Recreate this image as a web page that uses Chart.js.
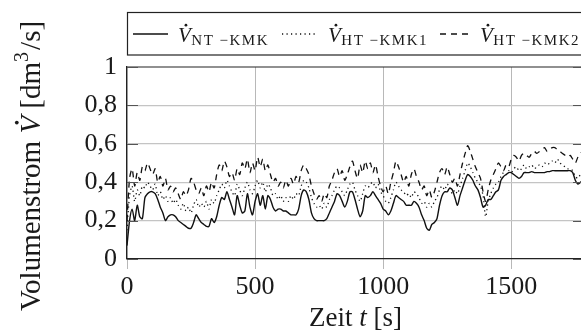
<!DOCTYPE html>
<html lang="de">
<head>
<meta charset="utf-8">
<script src="https://cdn.jsdelivr.net/npm/chart.js@4.4.1/dist/chart.umd.min.js"></script>
<style>
  html, body { margin: 0; padding: 0; background: #fff; overflow: hidden; }
  #wrap { width: 584px; height: 333px; }
</style>
</head>
<body>
<div id="wrap"><canvas id="volumenChart"></canvas></div>
<script>
// Zeitachse in s
var zeit = [
  0, 10, 20, 30, 40, 50, 60, 70, 80, 90,
  100, 110, 120, 130, 140, 150, 160, 170, 180, 190,
  200, 210, 220, 230, 240, 250, 260, 270, 280, 290,
  300, 310, 320, 330, 340, 350, 360, 370, 380, 390,
  400, 410, 420, 430, 440, 450, 460, 470, 480, 490,
  500, 510, 520, 530, 540, 550, 560, 570, 580, 590,
  600, 610, 620, 630, 640, 650, 660, 670, 680, 690,
  700, 710, 720, 730, 740, 750, 760, 770, 780, 790,
  800, 810, 820, 830, 840, 850, 860, 870, 880, 890,
  900, 910, 920, 930, 940, 950, 960, 970, 980, 990,
  1000, 1010, 1020, 1030, 1040, 1050, 1060, 1070, 1080, 1090,
  1100, 1110, 1120, 1130, 1140, 1150, 1160, 1170, 1180, 1190,
  1200, 1210, 1220, 1230, 1240, 1250, 1260, 1270, 1280, 1290,
  1300, 1310, 1320, 1330, 1340, 1350, 1360, 1370, 1380, 1390,
  1400, 1410, 1420, 1430, 1440, 1450, 1460, 1470, 1480, 1490,
  1500, 1510, 1520, 1530, 1540, 1550, 1560, 1570, 1580, 1590,
  1600, 1610, 1620, 1630, 1640, 1650, 1660, 1670, 1680, 1690,
  1700, 1710, 1720, 1730, 1740, 1750, 1760, 1770, 1780
];

// Volumenstrom in dm^3/s
var vNT = [
  0.07, 0.20, 0.26, 0.20, 0.28, 0.22, 0.21, 0.32, 0.34, 0.35,
  0.35, 0.34, 0.31, 0.27, 0.24, 0.20, 0.22, 0.23, 0.23, 0.22,
  0.20, 0.19, 0.18, 0.17, 0.16, 0.16, 0.19, 0.23, 0.21, 0.19,
  0.18, 0.17, 0.17, 0.21, 0.19, 0.22, 0.28, 0.32, 0.31, 0.35,
  0.31, 0.27, 0.23, 0.33, 0.28, 0.24, 0.25, 0.34, 0.27, 0.23,
  0.30, 0.34, 0.28, 0.33, 0.26, 0.33, 0.31, 0.27, 0.25, 0.26,
  0.26, 0.25, 0.25, 0.24, 0.23, 0.23, 0.23, 0.26, 0.33, 0.36,
  0.35, 0.31, 0.24, 0.21, 0.20, 0.20, 0.20, 0.20, 0.21, 0.24,
  0.27, 0.30, 0.34, 0.33, 0.30, 0.27, 0.30, 0.35, 0.35, 0.31,
  0.26, 0.22, 0.25, 0.33, 0.32, 0.33, 0.35, 0.33, 0.31, 0.29,
  0.26, 0.25, 0.23, 0.25, 0.29, 0.33, 0.32, 0.31, 0.30, 0.28,
  0.28, 0.28, 0.30, 0.29, 0.27, 0.23, 0.20, 0.16, 0.15, 0.18,
  0.19, 0.21, 0.28, 0.33, 0.35, 0.35, 0.37, 0.36, 0.32, 0.28,
  0.33, 0.37, 0.41, 0.44, 0.43, 0.41, 0.38, 0.36, 0.32, 0.27,
  0.28, 0.31, 0.31, 0.33, 0.35, 0.36, 0.41, 0.43, 0.44, 0.45,
  0.45, 0.44, 0.43, 0.42, 0.43, 0.45, 0.45, 0.45, 0.455, 0.45,
  0.45, 0.45, 0.45, 0.45, 0.455, 0.455, 0.46, 0.46, 0.46, 0.46,
  0.46, 0.46, 0.46, 0.46, 0.45, 0.41, 0.39, 0.40, 0.41
];

var vHT1 = [
  0.15, 0.33, 0.38, 0.30, 0.36, 0.33, 0.38, 0.37, 0.40, 0.38,
  0.36, 0.39, 0.33, 0.35, 0.31, 0.33, 0.30, 0.32, 0.29, 0.31,
  0.28, 0.26, 0.29, 0.25, 0.27, 0.24, 0.28, 0.31, 0.27, 0.29,
  0.27, 0.30, 0.26, 0.31, 0.29, 0.33, 0.36, 0.39, 0.37, 0.41,
  0.38, 0.35, 0.33, 0.39, 0.36, 0.33, 0.37, 0.40, 0.36, 0.34,
  0.38, 0.41, 0.37, 0.40, 0.35, 0.39, 0.37, 0.33, 0.34, 0.31,
  0.33, 0.30, 0.32, 0.30, 0.33, 0.31, 0.34, 0.33, 0.38, 0.41,
  0.40, 0.37, 0.32, 0.29, 0.27, 0.28, 0.26, 0.29, 0.27, 0.31,
  0.33, 0.36, 0.38, 0.37, 0.35, 0.33, 0.36, 0.39, 0.40, 0.36,
  0.33, 0.30, 0.34, 0.38, 0.37, 0.39, 0.40, 0.37, 0.39, 0.35,
  0.33, 0.30, 0.29, 0.32, 0.36, 0.40, 0.38, 0.36, 0.35, 0.33,
  0.34, 0.32, 0.35, 0.34, 0.32, 0.29, 0.30, 0.27, 0.29, 0.27,
  0.30, 0.32, 0.36, 0.38, 0.36, 0.39, 0.37, 0.34, 0.36, 0.34,
  0.38, 0.42, 0.46, 0.50, 0.48, 0.45, 0.42, 0.40, 0.38, 0.33,
  0.22, 0.30, 0.34, 0.37, 0.39, 0.40, 0.43, 0.45, 0.44, 0.46,
  0.45, 0.47, 0.48, 0.46, 0.47, 0.49, 0.47, 0.48, 0.49, 0.47,
  0.48, 0.49, 0.48, 0.50, 0.49, 0.50, 0.51, 0.50, 0.52, 0.50,
  0.49, 0.48, 0.47, 0.47, 0.46, 0.43, 0.42, 0.44, 0.45
];

var vHT2 = [
  0.20, 0.42, 0.47, 0.38, 0.45, 0.41, 0.48, 0.46, 0.50, 0.47,
  0.44, 0.47, 0.40, 0.43, 0.38, 0.42, 0.36, 0.38, 0.35, 0.37,
  0.34, 0.31, 0.35, 0.33, 0.36, 0.42, 0.40, 0.36, 0.34, 0.37,
  0.33, 0.38, 0.35, 0.40, 0.37, 0.44, 0.49, 0.46, 0.51, 0.48,
  0.43, 0.45, 0.41, 0.47, 0.44, 0.50, 0.47, 0.52, 0.45, 0.50,
  0.46, 0.53, 0.48, 0.52, 0.46, 0.49, 0.44, 0.40, 0.42, 0.38,
  0.40, 0.37, 0.41, 0.38, 0.42, 0.39, 0.43, 0.40, 0.46, 0.49,
  0.47, 0.44, 0.38, 0.34, 0.31, 0.33, 0.30, 0.34, 0.32, 0.38,
  0.41, 0.45, 0.47, 0.43, 0.46, 0.41, 0.44, 0.48, 0.51, 0.46,
  0.42, 0.49, 0.45, 0.51, 0.47, 0.50, 0.45, 0.49, 0.43, 0.38,
  0.35, 0.38, 0.34, 0.40, 0.45, 0.51, 0.48, 0.44, 0.40, 0.43,
  0.38, 0.44, 0.47, 0.43, 0.40, 0.36, 0.38, 0.33, 0.36, 0.32,
  0.35, 0.40, 0.45, 0.47, 0.44, 0.48, 0.44, 0.40, 0.42, 0.38,
  0.44, 0.50, 0.55, 0.59, 0.56, 0.52, 0.48, 0.45, 0.42, 0.35,
  0.30, 0.36, 0.41, 0.44, 0.47, 0.50, 0.48, 0.46, 0.49, 0.48,
  0.52, 0.54, 0.53, 0.51, 0.54, 0.55, 0.54, 0.53, 0.55, 0.56,
  0.55, 0.56, 0.57, 0.58, 0.56, 0.57, 0.58, 0.58, 0.57, 0.56,
  0.55, 0.54, 0.53, 0.54, 0.52, 0.50, 0.53, 0.55, 0.56
];

var xTicks = [0, 500, 1000, 1500];
var yTicks = [0, 0.2, 0.4, 0.6, 0.8, 1];
var legendeIndizes = ['NT \u2212KMK', 'HT \u2212KMK1', 'HT \u2212KMK2'];

var SCHRIFT = '"Liberation Serif", "DejaVu Serif", serif';
var TEXTFARBE = '#1a1a1a';

function punkte(werte) {
    return zeit.map(function (t, i) { return { x: t, y: werte[i] }; });
}

// "V" kursiv mit Punkt darueber (Volumenstrom), gibt die Breite zurueck
function zeichneVPunkt(ctx, x, y, groesse) {
    ctx.font = 'italic ' + groesse + 'px ' + SCHRIFT;
    ctx.fillText('V', x, y);
    var w = ctx.measureText('V').width;
    ctx.beginPath();
    ctx.arc(x + w * 0.62, y - groesse * 0.80, groesse * 0.065, 0, Math.PI * 2);
    ctx.fill();
    return w;
}

// Rahmen, Innen-Ticks, Achsentitel und Legende
var beschriftung = {
    id: 'beschriftung',
    afterDraw: function (chart) {
        var ctx = chart.ctx;
        var a = chart.chartArea;
        var ys = chart.scales.y;
        ctx.save();

        // oberer und rechter Rahmen
        ctx.strokeStyle = '#222';
        ctx.lineWidth = 1.2;
        ctx.beginPath();
        ctx.moveTo(a.left, a.top);
        ctx.lineTo(a.right, a.top);
        ctx.lineTo(a.right, a.bottom);
        ctx.stroke();

        // kurze Ticks innen an der y-Achse
        ctx.strokeStyle = '#555';
        ctx.lineWidth = 1;
        yTicks.forEach(function (v) {
            var py = Math.round(ys.getPixelForValue(v)) + 0.5;
            ctx.beginPath();
            ctx.moveTo(a.left, py); ctx.lineTo(a.left + 11, py);
            ctx.moveTo(a.right, py); ctx.lineTo(a.right - 11, py);
            ctx.stroke();
        });

        ctx.fillStyle = TEXTFARBE;
        ctx.textBaseline = 'alphabetic';
        ctx.textAlign = 'left';

        // x-Achsentitel: Zeit t [s]
        var gr = 27;
        ctx.font = gr + 'px ' + SCHRIFT;
        var w1 = ctx.measureText('Zeit ').width;
        var w3 = ctx.measureText(' [s]').width;
        ctx.font = 'italic ' + gr + 'px ' + SCHRIFT;
        var w2 = ctx.measureText('t').width;
        var xs = (a.left + a.right) / 2 - (w1 + w2 + w3) / 2;
        ctx.font = gr + 'px ' + SCHRIFT;
        ctx.fillText('Zeit ', xs, 326);
        ctx.font = 'italic ' + gr + 'px ' + SCHRIFT;
        ctx.fillText('t', xs + w1, 326);
        ctx.font = gr + 'px ' + SCHRIFT;
        ctx.fillText(' [s]', xs + w1 + w2, 326);

        // y-Achsentitel: Volumenstrom V [dm^3/s]
        var gy = 29;
        ctx.save();
        ctx.translate(40, (a.top + a.bottom) / 2 + 3);
        ctx.rotate(-Math.PI / 2);
        ctx.font = gy + 'px ' + SCHRIFT;
        var tA = 'Volumenstrom ', tB = ' [dm', tC = '/s]';
        var wA = ctx.measureText(tA).width, wB = ctx.measureText(tB).width, wC = ctx.measureText(tC).width;
        ctx.font = 'italic ' + gy + 'px ' + SCHRIFT;
        var wV = ctx.measureText('V').width;
        ctx.font = Math.round(gy * 0.7) + 'px ' + SCHRIFT;
        var w3s = ctx.measureText('3').width + 2;
        var px = -(wA + wV + wB + w3s + wC) / 2;
        ctx.font = gy + 'px ' + SCHRIFT;
        ctx.fillText(tA, px, 0); px += wA;
        px += zeichneVPunkt(ctx, px, 0, gy);
        ctx.font = gy + 'px ' + SCHRIFT;
        ctx.fillText(tB, px, 0); px += wB;
        ctx.font = Math.round(gy * 0.7) + 'px ' + SCHRIFT;
        ctx.fillText('3', px, -gy * 0.42); px += w3s;
        ctx.font = gy + 'px ' + SCHRIFT;
        ctx.fillText(tC, px, 0);
        ctx.restore();

        // Legende oben
        ctx.strokeStyle = '#222';
        ctx.lineWidth = 1.2;
        ctx.strokeRect(a.left + 0.5, 12.5, chart.width, 42.5);

        var eintragX = [133, 282, 440];
        var laenge = [35, 36, 30];
        var linieY = 34;
        chart.data.datasets.forEach(function (ds, i) {
            var x0 = eintragX[i];
            ctx.strokeStyle = ds.borderColor;
            ctx.lineWidth = ds.borderWidth;
            ctx.setLineDash(ds.borderDash || []);
            ctx.beginPath();
            ctx.moveTo(x0, linieY);
            ctx.lineTo(x0 + laenge[i], linieY);
            ctx.stroke();
            ctx.setLineDash([]);

            var tx = x0 + laenge[i] + 10;
            ctx.fillStyle = TEXTFARBE;
            tx += zeichneVPunkt(ctx, tx, 42, 21) + 0.5;
            ctx.font = '15px ' + SCHRIFT;
            ctx.letterSpacing = '1.5px';
            ctx.fillText(legendeIndizes[i], tx, 45);
            ctx.letterSpacing = '0px';
        });

        ctx.restore();
    }
};

var tickFont = { family: SCHRIFT, size: 26 };

new Chart(document.getElementById('volumenChart').getContext('2d'), {
    type: 'line',
    data: {
        datasets: [{
            label: 'NT-KMK',
            data: punkte(vNT),
            borderColor: '#111',
            borderWidth: 1.4,
            pointRadius: 0,
            tension: 0.25
        }, {
            label: 'HT-KMK1',
            data: punkte(vHT1),
            borderColor: '#111',
            borderWidth: 1.3,
            borderDash: [1.2, 3.3],
            pointRadius: 0,
            tension: 0.25
        }, {
            label: 'HT-KMK2',
            data: punkte(vHT2),
            borderColor: '#111',
            borderWidth: 1.3,
            borderDash: [6, 5],
            pointRadius: 0,
            tension: 0.25
        }]
    },
    options: {
        responsive: true,
        maintainAspectRatio: false,
        animation: false,
        layout: { padding: { top: 67, left: 0, right: 0, bottom: 0 } },
        plugins: {
            legend: { display: false },
            tooltip: { enabled: false }
        },
        scales: {
            x: {
                type: 'linear',
                min: 0,
                max: 1784,
                afterBuildTicks: function (s) { s.ticks = xTicks.map(function (v) { return { value: v }; }); },
                afterFit: function (s) { s.height = 74; },
                grid: { color: '#b8b8b8', lineWidth: 1, drawTicks: true, tickLength: 10, tickColor: '#b8b8b8' },
                border: { color: '#222', width: 1.2 },
                ticks: {
                    font: tickFont,
                    color: TEXTFARBE,
                    padding: 3,
                    maxRotation: 0,
                    autoSkip: false,
                    callback: function (v) { return String(v); }
                }
            },
            y: {
                min: 0,
                max: 1,
                afterBuildTicks: function (s) { s.ticks = yTicks.map(function (v) { return { value: v }; }); },
                afterFit: function (s) { s.width = 127; },
                grid: {
                    color: function (c) { return (c.tick.value === 0 || c.tick.value === 1) ? 'rgba(0,0,0,0)' : '#c4c4c4'; },
                    lineWidth: 1.2,
                    drawTicks: false
                },
                border: { color: '#222', width: 1.2 },
                ticks: {
                    font: tickFont,
                    color: TEXTFARBE,
                    padding: 10,
                    callback: function (v) { return String(v).replace('.', ','); }
                }
            }
        }
    },
    plugins: [beschriftung]
});
</script>
</body>
</html>
